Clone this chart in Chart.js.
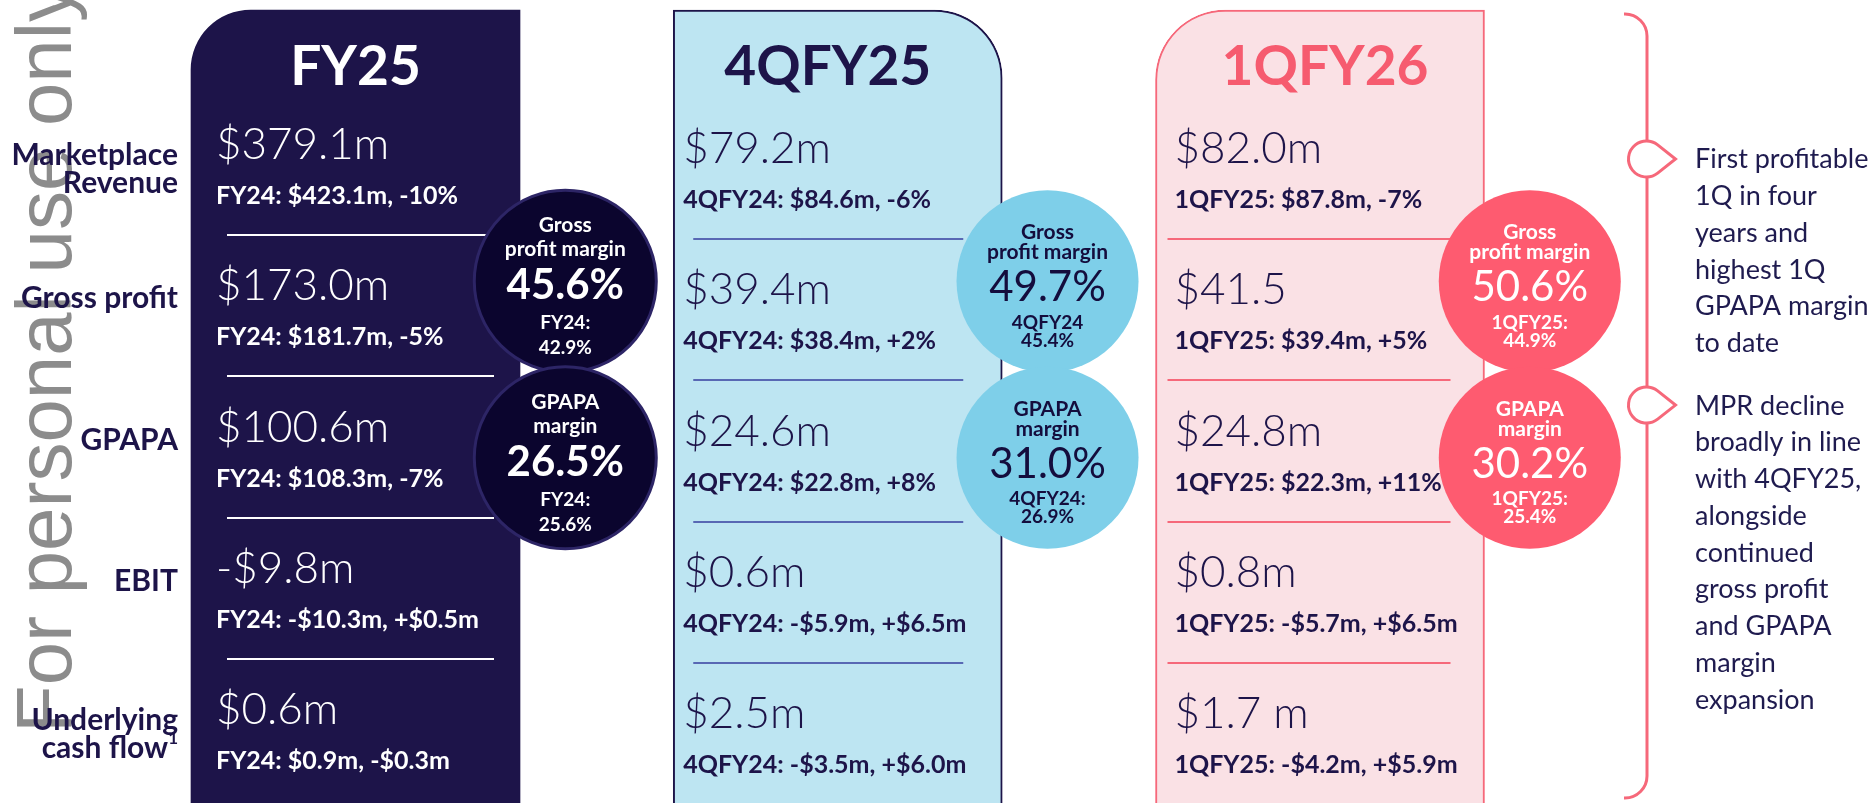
<!DOCTYPE html>
<html>
<head>
<meta charset="utf-8">
<title>FY25 / 4QFY25 / 1QFY26 key metrics</title>
<script src="https://cdn.jsdelivr.net/npm/chart.js@4.4.1/dist/chart.umd.min.js"></script>
<style>
  html, body { margin: 0; padding: 0; background: #ffffff; }
  #slide { display: block; }
</style>
</head>
<body>
<canvas id="slide" width="1872" height="803"></canvas>
<script>
// Data
const periods = ['FY25', '4QFY25', '1QFY26'];
const metricLabels = [['Marketplace', 'Revenue'], ['Gross profit'], ['GPAPA'], ['EBIT'], ['Underlying', 'cash flow']];
const metricFootnotes = ['', '', '', '', '1'];

const fy25Values = ['$379.1m', '$173.0m', '$100.6m', '-$9.8m', '$0.6m'];
const fy25Compare = ['FY24: $423.1m, -10%', 'FY24: $181.7m, -5%', 'FY24: $108.3m, -7%', 'FY24: -$10.3m, +$0.5m', 'FY24: $0.9m, -$0.3m'];
const q4fy25Values = ['$79.2m', '$39.4m', '$24.6m', '$0.6m', '$2.5m'];
const q4fy25Compare = ['4QFY24: $84.6m, -6%', '4QFY24: $38.4m, +2%', '4QFY24: $22.8m, +8%', '4QFY24: -$5.9m, +$6.5m', '4QFY24: -$3.5m, +$6.0m'];
const q1fy26Values = ['$82.0m', '$41.5', '$24.8m', '$0.8m', '$1.7 m'];
const q1fy26Compare = ['1QFY25: $87.8m, -7%', '1QFY25: $39.4m, +5%', '1QFY25: $22.3m, +11%', '1QFY25: -$5.7m, +$6.5m', '1QFY25: -$4.2m, +$5.9m'];

const marginLabels = [['Gross', 'profit margin'], ['GPAPA', 'margin']];
const grossMargin = [45.6, 49.7, 50.6];
const grossMarginPrior = [['FY24:', '42.9%'], ['4QFY24', '45.4%'], ['1QFY25:', '44.9%']];
const gpapaMargin = [26.5, 31.0, 30.2];
const gpapaMarginPrior = [['FY24:', '25.6%'], ['4QFY24:', '26.9%'], ['1QFY25:', '25.4%']];

const notes = [
  ['First profitable', '1Q in four', 'years and', 'highest 1Q', 'GPAPA margin', 'to date'],
  ['MPR decline', 'broadly in line', 'with 4QFY25,', 'alongside', 'continued', 'gross profit', 'and GPAPA', 'margin', 'expansion']
];

const periodValues = [fy25Values, q4fy25Values, q1fy26Values];
const periodCompare = [fy25Compare, q4fy25Compare, q1fy26Compare];
const periodMargins = [grossMargin, gpapaMargin];
const periodMarginPrior = [grossMarginPrior, gpapaMarginPrior];

// Layout and styles
const W = 1872, H = 803;
const COL_X0 = 355.5, COL_W = 482.25;   // first panel centre, panel spacing (px)
const ROW_Y0 = 146, ROW_H = 141.25;     // first value row centre, row spacing (px)
const PANEL_TOP = -0.963, PANEL_BOTTOM = 5;
const CIRCLE_DX = 0.435, CIRCLE_ROWS = [0.958, 2.207], CIRCLE_R = 91;
const NOTE_ROWS = [0.092, 1.834];

const NAVY = '#1d1449';
const PINK = '#f6687a';
const PANEL_FILL = [NAVY, '#bde5f2', '#fae1e5'];
const PANEL_BORDER = [NAVY, NAVY, PINK];
const PANEL_BORDER_W = [0, 2, 2];
const PANEL_RADIUS = [{ topLeft: 60 }, { topRight: 68 }, { topLeft: 70 }];
const TITLE_COLOR = ['#ffffff', NAVY, '#f65b6f'];
const TITLE_SHIFT = [0, -10, 5];
const TEXT_COLOR = ['#ffffff', NAVY, NAVY];
const TEXT_INSET = [25, 10, 19];
const ROW_SHIFT = [-4, 0, 0];
const RULE_COLOR = ['#ffffff', '#5868b4', PINK];
const RULE_FROM = [36, 20, 12], RULE_TO = [303, 290, 295];
const CIRCLE_FILL = ['#0b052e', '#7ecfe9', '#fe5b70'];
const CIRCLE_RING = ['#2d2566', '#7ecfe9', '#fe5b70'];
const CIRCLE_RING_W = [3, 0, 0];
const CIRCLE_TEXT = ['#ffffff', '#140d3d', '#ffffff'];
const PCT_WEIGHT = ['bold', 'normal', 'normal'];

function txt(ctx, s, x, y, size, weight, color, align) {
  ctx.font = weight + ' ' + size + 'px Lato';
  ctx.fillStyle = color;
  ctx.textAlign = align || 'left';
  ctx.textBaseline = 'alphabetic';
  ctx.fillText(s, x, y);
}

// Circles: one bubble per margin per period
const circles = [];
periods.forEach((p, i) => {
  periodMargins.forEach((m, k) => {
    circles.push({ x: i + CIRCLE_DX, y: CIRCLE_ROWS[k], r: CIRCLE_R, col: i, kind: k, value: m[i] });
  });
});

const slidePlugin = {
  id: 'slideText',
  beforeDatasetsDraw(chart) {
    const ctx = chart.ctx;
    // watermark
    ctx.save();
    ctx.translate(71, 733);
    ctx.rotate(-Math.PI / 2);
    ctx.font = '78px "Liberation Sans"';
    ctx.fillStyle = '#8c8c8c';
    ctx.textAlign = 'left';
    ctx.textBaseline = 'alphabetic';
    ctx.fillText('For personal use only', 0, 0);
    ctx.restore();
  },
  afterDatasetDraw(chart, args) {
    if (args.meta.type !== 'bar') return;
    const ctx = chart.ctx;
    const y = chart.scales.y;
    ctx.save();
    args.meta.data.forEach((bar, i) => {
      const left = bar.x - bar.width / 2;
      ctx.strokeStyle = RULE_COLOR[i];
      ctx.lineWidth = 2;
      for (let r = 0; r < metricLabels.length - 1; r++) {
        const yy = Math.round(y.getPixelForValue(r) + 93 + ROW_SHIFT[i]);
        ctx.beginPath();
        ctx.moveTo(left + RULE_FROM[i], yy);
        ctx.lineTo(left + RULE_TO[i], yy);
        ctx.stroke();
      }
    });
    ctx.restore();
  },
  afterDatasetsDraw(chart) {
    const ctx = chart.ctx;
    const y = chart.scales.y;
    const bars = chart.getDatasetMeta(0).data;
    ctx.save();

    // panel titles, values and comparisons
    bars.forEach((bar, i) => {
      const left = bar.x - bar.width / 2;
      txt(ctx, periods[i], bar.x + TITLE_SHIFT[i], 85, 55, 'bold', TITLE_COLOR[i], 'center');
      periodValues[i].forEach((v, r) => {
        const cy = y.getPixelForValue(r) + ROW_SHIFT[i];
        txt(ctx, v, left + TEXT_INSET[i], cy + 17, 44, '300', TEXT_COLOR[i]);
        txt(ctx, periodCompare[i][r], left + TEXT_INSET[i], cy + 62, 25, 'bold', TEXT_COLOR[i]);
      });
    });

    // metric labels on the left
    const labelX = bars[0].x - bars[0].width / 2 - 13;
    metricLabels.forEach((lines, r) => {
      const cy = y.getPixelForValue(r);
      const base = lines.length > 1 ? [cy + 19, cy + 47] : [cy + 21];
      lines.forEach((s, j) => {
        const last = j === lines.length - 1;
        let x = labelX;
        if (last && metricFootnotes[r]) {
          ctx.font = 'bold 17px Lato';
          const w = ctx.measureText(metricFootnotes[r]).width;
          x -= w;
          txt(ctx, metricFootnotes[r], x, base[j] - 14, 17, 'bold', NAVY, 'left');
        }
        txt(ctx, s, x, base[j], 30, 'bold', NAVY, 'right');
      });
    });

    // margin circles text
    chart.getDatasetMeta(1).data.forEach((pt, n) => {
      const c = circles[n];
      const dark = c.col === 0;
      const col = CIRCLE_TEXT[c.col];
      const lab = dark ? [-49, -25] : [-42, -22];
      const pct = dark ? 18 : 20;
      const prior = dark ? [48, 73] : [47.5, 65.5];
      marginLabels[c.kind].forEach((s, j) => txt(ctx, s, pt.x, pt.y + lab[j], 21, 'bold', col, 'center'));
      txt(ctx, c.value.toFixed(1) + '%', pt.x, pt.y + pct, 42, PCT_WEIGHT[c.col], col, 'center');
      periodMarginPrior[c.kind][c.col].forEach((s, j) => txt(ctx, s, pt.x, pt.y + prior[j], 19, 'bold', col, 'center'));
    });

    // bracket with markers and commentary
    ctx.strokeStyle = PINK;
    ctx.lineWidth = 3;
    ctx.beginPath();
    ctx.moveTo(1624, 14);
    ctx.arcTo(1647, 14, 1647, 60, 22);
    ctx.arcTo(1647, 798, 1600, 798, 22);
    ctx.lineTo(1624, 798);
    ctx.stroke();

    notes.forEach((lines, b) => {
      const my = y.getPixelForValue(NOTE_ROWS[b]);
      const rr = 18, d = 29, a = Math.acos(rr / d);
      ctx.beginPath();
      ctx.arc(1646.5, my, rr, a, 2 * Math.PI - a);
      ctx.lineTo(1646.5 + d, my);
      ctx.closePath();
      ctx.fillStyle = '#ffffff';
      ctx.fill();
      ctx.strokeStyle = PINK;
      ctx.lineWidth = 3;
      ctx.stroke();
      lines.forEach((s, j) => txt(ctx, s, 1695, my + 9.5 + j * 36.75, 27, 'normal', '#1f1b4f', 'left'));
    });

    ctx.restore();
  }
};

Chart.defaults.font.family = 'Lato';

const slideChart = new Chart(document.getElementById('slide').getContext('2d'), {
  type: 'bar',
  data: {
    datasets: [{
      type: 'bar',
      data: periods.map((p, i) => ({ x: i, y: [PANEL_TOP, PANEL_BOTTOM] })),
      backgroundColor: PANEL_FILL,
      borderColor: PANEL_BORDER,
      borderWidth: PANEL_BORDER_W,
      borderRadius: ctx => PANEL_RADIUS[ctx.dataIndex],
      borderSkipped: false,
      barThickness: 329,
      order: 2
    }, {
      type: 'bubble',
      data: circles,
      backgroundColor: circles.map(c => CIRCLE_FILL[c.col]),
      borderColor: circles.map(c => CIRCLE_RING[c.col]),
      borderWidth: circles.map(c => CIRCLE_RING_W[c.col]),
      clip: false,
      order: 1
    }]
  },
  options: {
    responsive: false,
    animation: false,
    events: [],
    layout: { padding: 0, autoPadding: false },
    plugins: {
      legend: { display: false },
      tooltip: { enabled: false }
    },
    scales: {
      x: { type: 'linear', display: false, offset: false, min: -COL_X0 / COL_W, max: (W - COL_X0) / COL_W },
      y: { type: 'linear', display: false, reverse: true, min: -ROW_Y0 / ROW_H, max: (H - ROW_Y0) / ROW_H }
    }
  },
  plugins: [slidePlugin]
});
</script>
</body>
</html>
